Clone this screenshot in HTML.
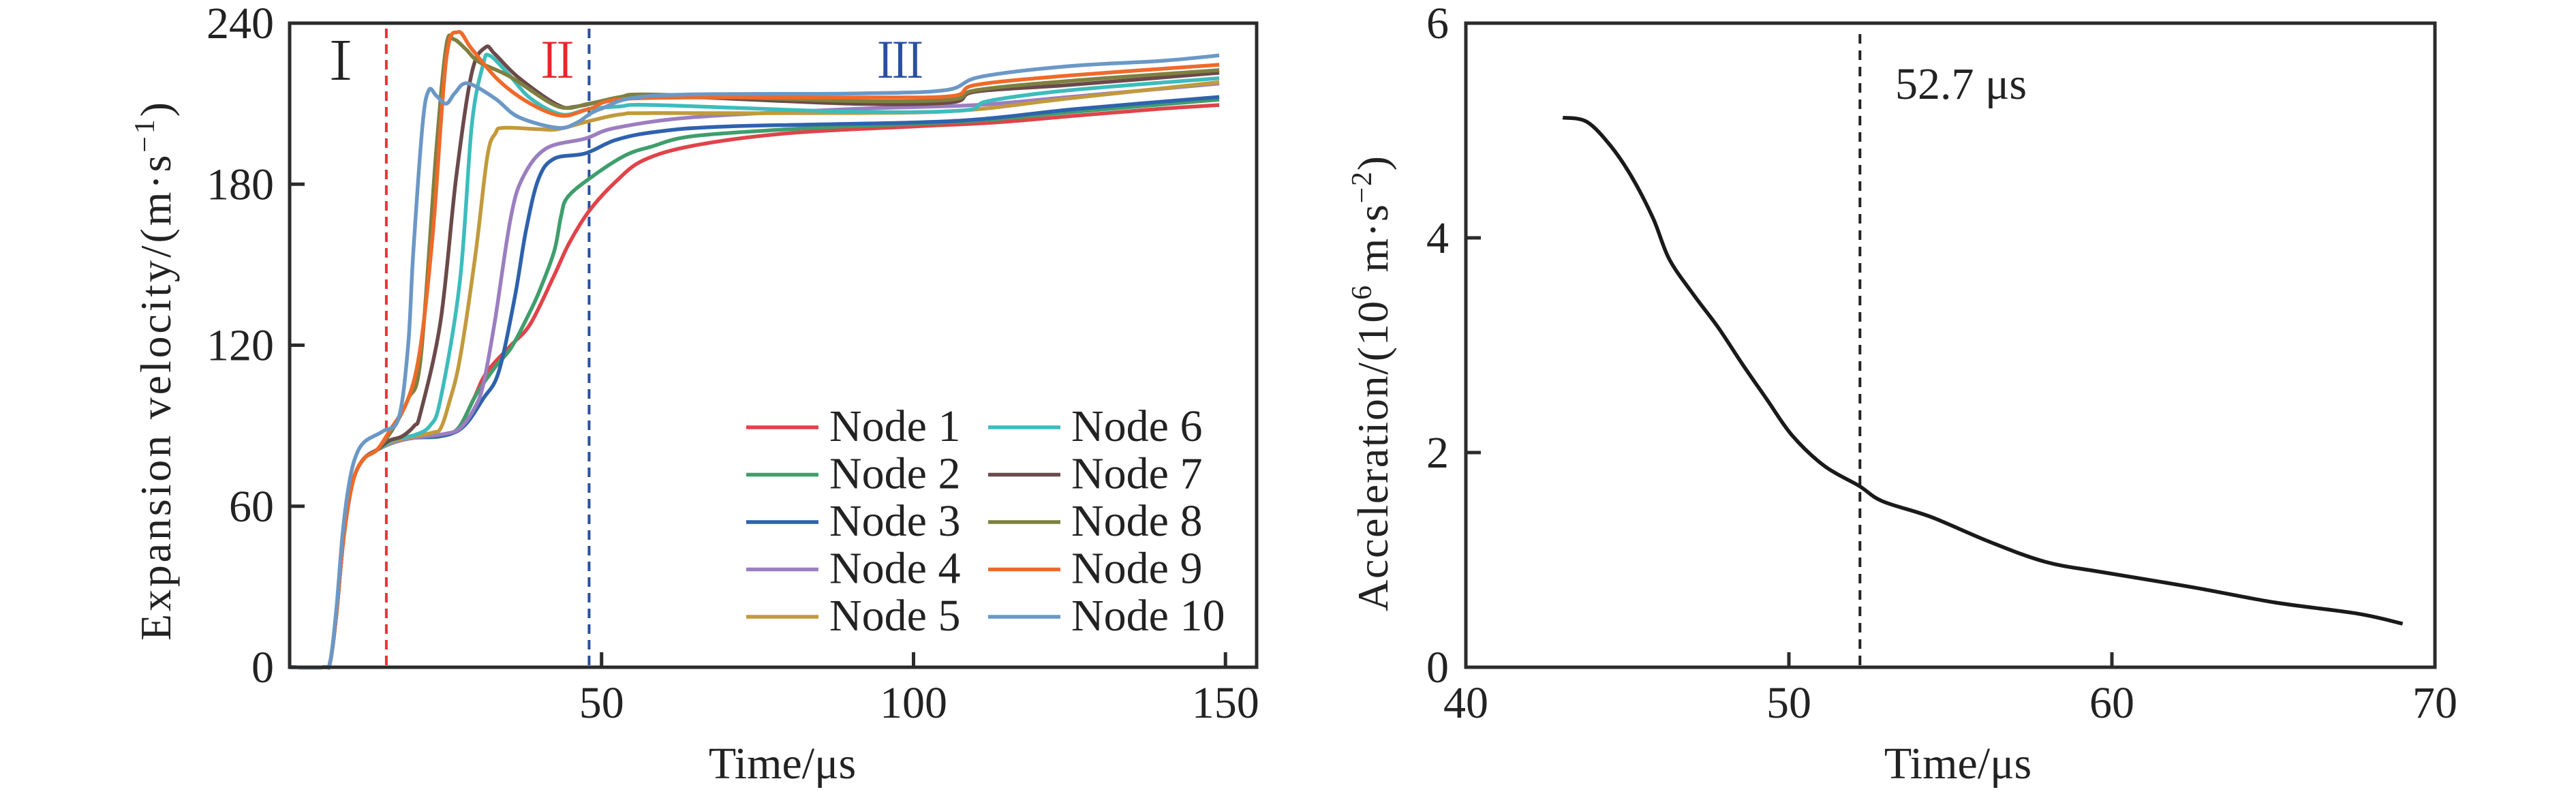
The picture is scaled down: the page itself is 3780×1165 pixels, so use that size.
<!DOCTYPE html>
<html><head><meta charset="utf-8"><style>
html,body{margin:0;padding:0;background:#fff;}
svg{display:block;font-family:"Liberation Serif","Noto Serif CJK SC",serif;}
</style></head><body>
<svg id="fig" xmlns="http://www.w3.org/2000/svg" width="3780" height="1165" viewBox="0 0 3780 1165">
<rect width="3780" height="1165" fill="#fff"/>
<g id="left"></g>
<g id="right"></g>
</svg>
<script>
// ---- Left chart data ----
const nodeNames = ["Node 1","Node 2","Node 3","Node 4","Node 5","Node 6","Node 7","Node 8","Node 9","Node 10"];
const nodeColors = ["#e0434a","#3f9e6c","#2e62ad","#9b7ec0","#c29a3c","#3dbcbc","#6b4a4a","#7f8040","#ee6a2a","#6b98c6"];
const velTicks = [0,60,120,180,240];
const timeTicks = [50,100,150];
const startT = [0,5.5,6.5,7.5,8.5,9.5,10.5,12,14];
const startV = [0,0,2,20,45,62,72,78,81];
const node1 = [[17,84],[20,85.5],[24,86],[27,89],[29.5,100],[31.6,110],[35.5,120],[38.6,128],[42.4,146],[44.8,158],[48,170],[52.3,181],[56.8,189],[65,194.5],[80,199],[100,201.5],[113,203],[126,205.5],[139,208],[149,209.5]];
const node2 = [[17,84],[20,85.5],[24,86],[27,89],[30,102],[33,112],[35.5,119],[38,130],[40,140],[42.4,155],[43.5,168],[44.5,175],[48,182],[53.6,190.5],[58,194],[65,198],[84,201],[100,202.5],[112,204],[126,207],[149,211.5]];
const node3 = [[17,84],[20,85.5],[25,86.5],[28,90],[31,100],[33.5,110],[36.1,138],[37.9,163],[39.9,182],[42.4,189.5],[47.4,191.5],[52.3,196.5],[58.7,199.5],[70,201.5],[100,203],[112,204.5],[126,208],[149,212.5]];
const node4 = [[17,84],[20,85.5],[25,87],[27.3,89],[29.5,96],[31,105],[32.9,129],[35.4,167],[37.4,182.6],[41.1,193.3],[47.4,197],[52.3,201],[65,205],[90,208],[110,209.5],[125,212.5],[149,217.5]];
const node5 = [[17,84.5],[20,86],[23,87.5],[24.2,89],[25.5,98],[27.3,115],[29.8,154],[31.7,190.5],[33,199],[34.2,201],[40,200.5],[43,200.5],[48,203.5],[53,206],[58.7,206.5],[90,206.5],[108,207.5],[125,212],[149,218]];
const node6 = [[17,85],[20,86.5],[22.5,90],[24.2,100],[27.3,144],[29.2,202],[31,224.5],[32,228],[34.9,221.5],[38.6,212],[43.6,206],[48,208],[53,209],[58.7,209.5],[90,207],[108,207.5],[112,211],[125,215],[149,219.5]];
const node7 = [[16,84.5],[18,86],[20,90],[21,95],[24.2,129],[26.7,182.6],[29.2,221.5],[31.4,231],[32.9,228.5],[36.7,219.7],[43,209.5],[46.1,209],[52.3,212],[58.7,213],[90,210],[106,210.5],[110,214.5],[125,217],[149,221.5]];
const node8 = [[16.6,89],[19,100],[21,115],[23.5,192.5],[25.1,231.5],[26.3,234],[28.2,230.4],[30.4,225.5],[35.4,220],[43,209],[48,210],[53,212.5],[58.7,213.4],[90,211],[106,211.5],[110,215],[125,218.5],[149,222.5]];
const node9 = [[16,88],[19,100],[21,120],[23,163],[25.1,226.6],[27,236.7],[29.2,230.4],[33.5,218.7],[38.6,210],[43.6,205.5],[48,208],[55.5,212],[90,212.3],[106,212.8],[110,217],[125,220.5],[149,224.5]];
const node10 = [[0,0],[5.5,0],[6.5,2],[7.5,22],[8.5,50],[9.5,68],[10.5,78],[12,84],[15,88],[17.5,93],[19,120],[19.8,154],[21.3,202],[22.3,215],[23.5,213],[25.1,210],[26.5,214],[28.5,217.6],[32.9,212],[36.7,205],[43,201],[46.1,203],[49.8,208],[58.7,213],[90,213.8],[105,215],[110.7,220],[125,224],[140,226],[149,228]];
const phaseLines = [15.5, 48];
// ---- Right chart data ----
const accT = [43.0,43.75,44.5,45.15,45.8,46.3,47.05,47.8,48.57,49.33,50.1,51.1,52.17,52.9,54.4,56.2,57.96,59.7,62.5,65.05,67.6,69.0];
const accV = [5.12,5.08,4.85,4.56,4.18,3.80,3.47,3.17,2.82,2.49,2.16,1.875,1.69,1.546,1.40,1.17,0.98,0.886,0.745,0.603,0.50,0.405];
const accTicksX = [40,50,60,70];
const accTicksY = [0,2,4,6];
const markerT = 52.2;

const NS="http://www.w3.org/2000/svg";
function mk(parent,tag,attrs,text){const e=document.createElementNS(NS,tag);for(const k in attrs)e.setAttribute(k,attrs[k]);if(text!==undefined)e.textContent=text;parent.appendChild(e);return e;}

// Left axes
const L={x0:425,x1:1844,y0:979,y1:34,tmax:155,vmax:240};
const lx=t=>L.x0+t/L.tmax*(L.x1-L.x0);
const ly=v=>L.y0-v/L.vmax*(L.y0-L.y1);
const left=document.getElementById('left');
function smooth(pts,fx,fy){
  const P=pts.map(p=>[fx(p[0]),fy(p[1])]);let d='M'+P[0][0].toFixed(1)+' '+P[0][1].toFixed(1);
  for(let i=0;i<P.length-1;i++){const p0=P[i-1]||P[i],p1=P[i],p2=P[i+1],p3=P[i+2]||P[i+1];
    const c1=[p1[0]+(p2[0]-p0[0])/6,p1[1]+(p2[1]-p0[1])/6],c2=[p2[0]-(p3[0]-p1[0])/6,p2[1]-(p3[1]-p1[1])/6];
    d+=' C'+c1[0].toFixed(1)+' '+c1[1].toFixed(1)+' '+c2[0].toFixed(1)+' '+c2[1].toFixed(1)+' '+p2[0].toFixed(1)+' '+p2[1].toFixed(1);}
  return d;}
const prefix=startT.map((t,i)=>[t,startV[i]]);
const series=[node1,node2,node3,node4,node5,node6,node7,node8,node9,node10];
const pl1=mk(left,'line',{x1:lx(phaseLines[0]),x2:lx(phaseLines[0]),y1:L.y1+8,y2:L.y0,stroke:'#e8343a','stroke-width':4,'stroke-dasharray':'14 9'});


const pl2=mk(left,'line',{x1:lx(phaseLines[1]),x2:lx(phaseLines[1]),y1:L.y1+8,y2:L.y0,stroke:'#2a4fa0','stroke-width':4,'stroke-dasharray':'14 9'});


series.forEach((s,i)=>{
  const pts=(i===9)?s:prefix.filter(p=>p[0]<s[0][0]).concat(s);
  const p=mk(left,'path',{d:smooth(pts,lx,ly),fill:'none',stroke:nodeColors[i],'stroke-width':5.5,'stroke-linejoin':'round'});
  
  
});
const lf=mk(left,'rect',{x:L.x0,y:L.y1,width:L.x1-L.x0,height:L.y0-L.y1,fill:'none',stroke:'#2b2b2b','stroke-width':5});


velTicks.forEach(v=>{
  if(v>0&&v<240){const tk=mk(left,'line',{x1:L.x0,x2:L.x0+22,y1:ly(v),y2:ly(v),stroke:'#2b2b2b','stroke-width':5});
  
  }
  const t=mk(left,'text',{x:402,y:ly(v)+22,'text-anchor':'end','font-size':66,fill:'#222'},String(v));
  
  
});
timeTicks.forEach(v=>{
  const tk=mk(left,'line',{x1:lx(v),x2:lx(v),y1:L.y0,y2:L.y0-22,stroke:'#2b2b2b','stroke-width':5});
  
  
  const t=mk(left,'text',{x:lx(v),y:1053,'text-anchor':'middle','font-size':66,fill:'#222'},String(v));
  
  
});
const r1=mk(left,'text',{x:500,y:117,'text-anchor':'middle','font-size':76,fill:'#222'},'Ⅰ');


const r2=mk(left,'text',{x:818,y:114,'text-anchor':'middle','font-size':70,fill:'#e8262a'},'Ⅱ');


const r3=mk(left,'text',{x:1321,y:114,'text-anchor':'middle','font-size':70,fill:'#2a4fa0'},'Ⅲ');


const leg=mk(left,'g',{});


nodeNames.forEach((n,i)=>{
  const col=Math.floor(i/5),row=i%5;
  const x=col?1450:1095,y=625+row*69.5;
  const g=mk(leg,'g',{});
  
  
  mk(g,'line',{x1:x,x2:x+106,y1:y+2,y2:y+2,stroke:nodeColors[i],'stroke-width':5.5});
  mk(g,'text',{x:x+122,y:y+22,'font-size':66,fill:'#222'},n);
});
const yt=mk(left,'text',{transform:'translate(250,545) rotate(-90)','text-anchor':'middle','font-size':64,fill:'#222',textLength:790,lengthAdjust:'spacing'});


yt.innerHTML='Expansion velocity/(m·s<tspan dy="-24" font-size="42">−1</tspan><tspan dy="24">)</tspan>';
const xt=mk(left,'text',{x:1148,y:1142,'text-anchor':'middle','font-size':66,fill:'#222'},'Time/μs');



// Right chart
const R={x0:2151,x1:3573,y0:979,y1:34,tmin:40,tmax:70,amax:6};
const rx=t=>R.x0+(t-R.tmin)/(R.tmax-R.tmin)*(R.x1-R.x0);
const ry=a=>R.y0-a/R.amax*(R.y0-R.y1);
const right=document.getElementById('right');
const ml=mk(right,'line',{x1:rx(markerT),x2:rx(markerT),y1:R.y1+16,y2:R.y0,stroke:'#222','stroke-width':4,'stroke-dasharray':'14 10'});


const ac=mk(right,'path',{d:smooth(accT.map((t,i)=>[t,accV[i]]),rx,ry),fill:'none',stroke:'#1a1a1a','stroke-width':5.5});


const rf=mk(right,'rect',{x:R.x0,y:R.y1,width:R.x1-R.x0,height:R.y0-R.y1,fill:'none',stroke:'#2b2b2b','stroke-width':5});


accTicksY.forEach(v=>{
  if(v>0&&v<6){const tk=mk(right,'line',{x1:R.x0,x2:R.x0+22,y1:ry(v),y2:ry(v),stroke:'#2b2b2b','stroke-width':5});
  
  }
  const t=mk(right,'text',{x:2126,y:ry(v)+22,'text-anchor':'end','font-size':66,fill:'#222'},String(v));
  
  
});
accTicksX.forEach(v=>{
  if(v>40&&v<70){const tk=mk(right,'line',{x1:rx(v),x2:rx(v),y1:R.y0,y2:R.y0-22,stroke:'#2b2b2b','stroke-width':5});
  
  }
  const t=mk(right,'text',{x:rx(v),y:1053,'text-anchor':'middle','font-size':66,fill:'#222'},String(v));
  
  
});
const an=mk(right,'text',{x:2781,y:145,'font-size':66,fill:'#222'},'52.7 μs');


const ryt=mk(right,'text',{transform:'translate(2036,563) rotate(-90)','text-anchor':'middle','font-size':64,fill:'#222',textLength:668,lengthAdjust:'spacing'});


ryt.innerHTML='Acceleration/(10<tspan dy="-24" font-size="42">6</tspan><tspan dy="24"> m·s</tspan><tspan dy="-24" font-size="42">−2</tspan><tspan dy="24">)</tspan>';
const rxt=mk(right,'text',{x:2873,y:1142,'text-anchor':'middle','font-size':66,fill:'#222'},'Time/μs');


</script>
</body></html>
